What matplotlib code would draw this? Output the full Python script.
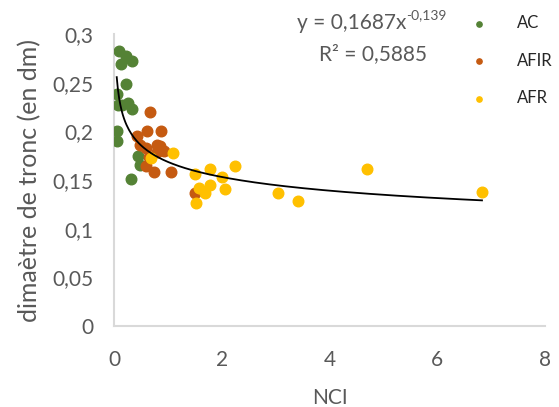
import numpy as np
import matplotlib.pyplot as plt

plt.rcParams['font.family'] = ['Lato', 'DejaVu Sans']

# NCI / trunk diameter values
ac_x = [0.10, 0.23, 0.33, 0.12, 0.23, 0.06, 0.26, 0.07, 0.14, 0.34, 0.06, 0.06, 0.44, 0.48, 0.32]
ac_y = [0.283, 0.278, 0.272, 0.269, 0.249, 0.238, 0.229, 0.227, 0.227, 0.223, 0.200, 0.190, 0.175, 0.166, 0.151]

afir_x = [0.67, 0.61, 0.88, 0.43, 0.49, 0.59, 0.79, 0.86, 0.79, 0.93, 0.64, 0.60, 0.74, 1.06, 1.50]
afir_y = [0.220, 0.200, 0.200, 0.195, 0.186, 0.183, 0.186, 0.185, 0.179, 0.180, 0.174, 0.164, 0.158, 0.158, 0.137]

afr_x = [0.68, 1.09, 1.51, 1.78, 2.01, 2.25, 1.58, 1.78, 1.69, 2.06, 1.53, 4.70, 3.04, 3.42, 6.83]
afr_y = [0.173, 0.178, 0.156, 0.161, 0.153, 0.164, 0.142, 0.145, 0.137, 0.141, 0.126, 0.161, 0.137, 0.128, 0.138]

# power trend line y = a * x^b
a, b = 0.1687, -0.139
x_fit = np.linspace(0.05, 6.83, 300)
y_fit = a * x_fit ** b

grey = '#595959'

fig = plt.figure(figsize=(5.59, 4.07), dpi=100)
ax = fig.add_axes([0.204, 0.199, 0.771, 0.717])

ax.scatter(ac_x, ac_y, s=58, color='#548235', label='AC', zorder=3)
ax.scatter(afir_x, afir_y, s=58, color='#C55A11', label='AFIR', zorder=3)
ax.scatter(afr_x, afr_y, s=58, color='#FFC000', label='AFR', zorder=3)
ax.plot(x_fit, y_fit, color='black', linewidth=1.3, zorder=4)

ax.set_xlim(0, 8)
ax.set_ylim(0, 0.3)
ax.set_xticks([0, 2, 4, 6, 8])
ax.set_yticks(np.arange(0, 0.31, 0.05))
ax.set_yticklabels(['0', '0,05', '0,1', '0,15', '0,2', '0,25', '0,3'])
ax.tick_params(length=0, labelsize=15, colors=grey)
ax.tick_params(axis='y', pad=15)
ax.tick_params(axis='x', pad=17)

for side in ['top', 'right']:
    ax.spines[side].set_visible(False)
for side in ['left', 'bottom']:
    ax.spines[side].set_color('#d9d9d9')
    ax.spines[side].set_linewidth(1.5)

ax.set_xlabel('NCI', fontsize=15, color=grey, labelpad=13)
ax.set_ylabel('dimaètre de tronc (en dm)', fontsize=18, color=grey, labelpad=8)

# trend line equation
t1 = fig.text(0.629, 0.943, 'y = 0,1687x', fontsize=15, color=grey, ha='center', va='center')
ax.annotate('-0,139', xy=(1, 0.62), xycoords=t1, fontsize=10, color=grey, ha='left', va='bottom')
fig.text(0.668, 0.867, 'R² = 0,5885', fontsize=15, color=grey, ha='center', va='center')

leg = fig.legend(loc='upper left', bbox_to_anchor=(0.80, 1.0), frameon=False,
                 fontsize=12, markerscale=0.5, labelspacing=1.3, handletextpad=1.3)
for txt in leg.get_texts():
    txt.set_color('#262626')

plt.savefig('out.png', dpi=100)
